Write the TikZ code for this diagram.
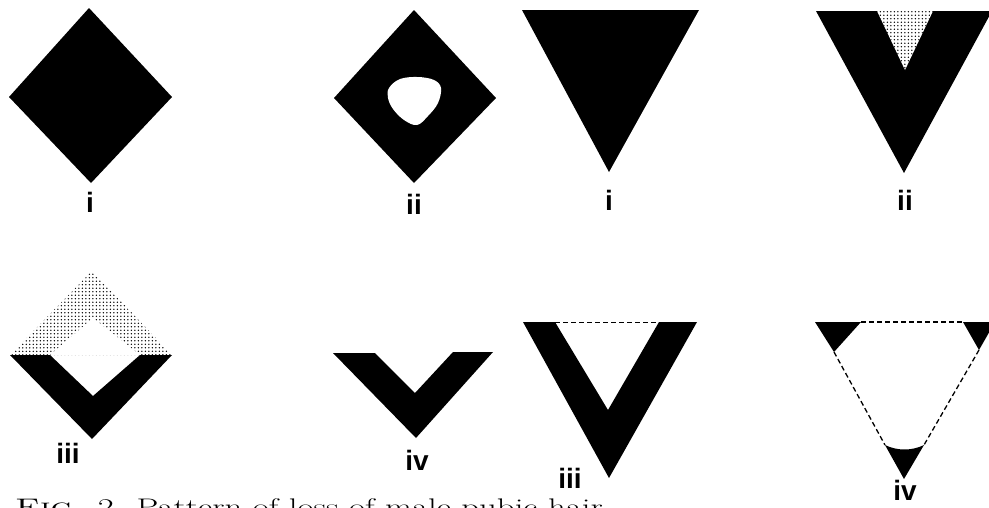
\documentclass[tikz,border=0pt]{standalone}
\usepackage{fontspec}
\usepackage{graphicx}
\newfontfamily\lblfont{Liberation Sans}
\usetikzlibrary{patterns}

\pgfdeclarepatternformonly{stipple}{\pgfqpoint{-1pt}{-1pt}}{\pgfqpoint{4.5pt}{4.5pt}}{\pgfqpoint{3.5pt}{3.5pt}}%
  {\pgfpathcircle{\pgfqpoint{1.75pt}{1.75pt}}{0.75pt}\pgfusepath{fill}}

\tikzset{
  blk/.style={fill=black},
  stip/.style={pattern=stipple},
  rim/.style={dash pattern=on 5pt off 3pt, line width=1.3pt},
  lbl/.style={font=\lblfont\bfseries\fontsize{28}{28}\selectfont, inner sep=0pt},
  capt/.style={font=\fontsize{24}{24}\selectfont, inner sep=0pt, anchor=base west},
}

\begin{document}
\begin{tikzpicture}[x=1pt,y=-1pt]
  % \draw[help lines, gray!50, very thin] (0,0) grid[step=50] (989,507);
  \useasboundingbox (0,0) rectangle (989,507);
  \clip (0,0) rectangle (989,507);

  % diamonds, top row
  \fill[blk] (89,8) -- (172,97) -- (91,183) -- (9,97) -- cycle;
  \node[lbl] (dia-i) at (90,202) {i};

  \fill[blk] (414,10) -- (496,98) -- (414,183) -- (334,98) -- cycle;
  \fill[white] plot[smooth cycle, tension=0.6] coordinates
    {(389,88) (400,79) (418,77) (434,80) (441,88) (438,103) (428,116) (417,125) (404,120) (393,109) (388,98)};
  \node[lbl] (dia-ii) at (414,204) {ii};

  % diamonds, bottom row
  \fill[stip] (10,355) -- (92,271) -- (172,355) -- cycle;
  \fill[white] (50,355) -- (93,318) -- (140,355) -- cycle;
  \fill[blk] (10,355) -- (50,355) -- (93,396) -- (140,355) -- (172,355) -- (92,439) -- cycle;
  \node[lbl] (dia-iii) at (68,453) {iii};

  \fill[blk] (333,353) -- (375,353) -- (415,393) -- (453,352) -- (493,352) -- (416,438) -- cycle;
  \node[lbl] (dia-iv) at (417,460) {iv};

  % triangles, top row
  \fill[blk] (522,10) -- (699,10) -- (609,172) -- cycle;
  \node[lbl] (tri-i) at (609,200) {i};

  \fill[blk] (816,11) -- (992,11) -- (904,173) -- cycle;
  \fill[white] (877,11) -- (933,11) -- (905,70) -- cycle;
  \fill[stip] (877,11) -- (933,11) -- (905,70) -- cycle;
  \node[lbl] (tri-ii) at (905,200) {ii};

  % triangles, bottom row
  \fill[blk] (523,322) -- (555,322) -- (608,410) -- (659,322) -- (697,322) -- (609,478) -- cycle;
  \coordinate (t3l) at (555,322);
  \coordinate (t3r) at (659,322);
  \draw[rim, line width=1pt] (t3l) -- (t3r);
  \node[lbl] (tri-iii) at (570,478) {iii};

  \fill[blk] (815,322) -- (861,322) -- (834,352) -- cycle;
  \fill[blk] (963,322) -- (995,322) -- (979,350) -- cycle;
  \fill[blk] (885,445) .. controls (897,451) and (912,451) .. (924,445) -- (904,479) -- cycle;
  \coordinate (t4a) at (861,322);
  \coordinate (t4b) at (963,322);
  \coordinate (t4c) at (834,352);
  \coordinate (t4d) at (885,445);
  \coordinate (t4e) at (979,350);
  \coordinate (t4f) at (924,445);
  \draw[rim] (t4a) -- (t4b);
  \draw[rim] (t4c) -- (t4d);
  \draw[rim] (t4e) -- (t4f);
  \node[lbl] (tri-iv) at (905,490) {iv};

  \node[capt] (caption) at (15,515) {\scalebox{1.45}[1]{\textsc{Fig.} 2. Pattern of loss of male pubic hair}};
\end{tikzpicture}
\end{document}
